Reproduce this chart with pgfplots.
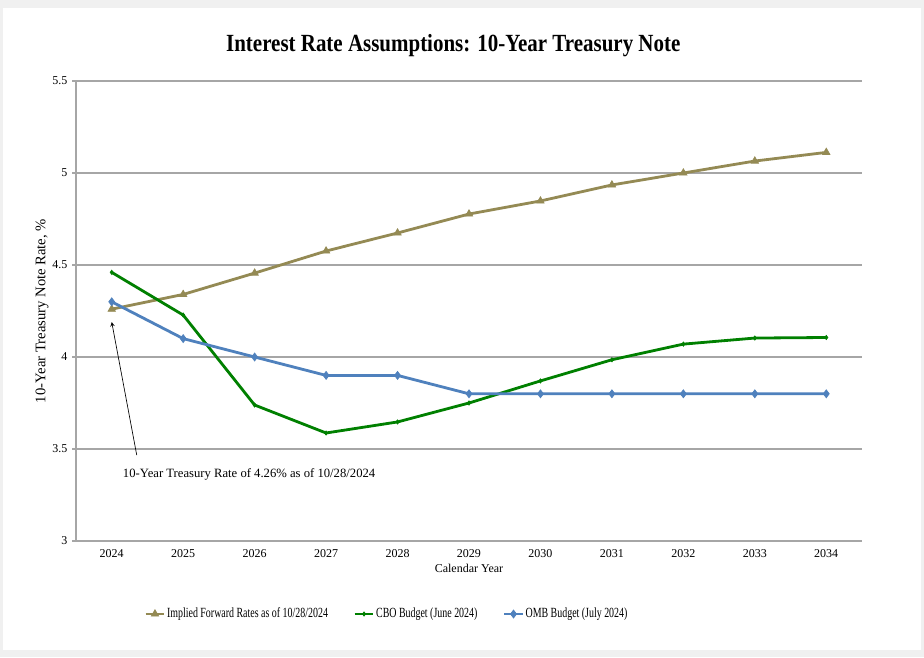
\documentclass[border=0pt]{standalone}
\usepackage{pgfplots}
\pgfplotsset{compat=1.18}
\usepackage{fontspec}
\setmainfont{Liberation Serif}
\newfontfamily\condensed[FakeStretch=0.71]{Liberation Serif}
\newfontfamily\titlefont[FakeStretch=0.85]{Liberation Serif}
\definecolor{tan}{HTML}{948A54}
\definecolor{cbo}{HTML}{008000}
\definecolor{omb}{HTML}{4F81BD}
\definecolor{bg}{HTML}{F0F0F0}
\begin{document}
\begin{tikzpicture}
% 1 px = 0.75pt ; axis origin at pixel (76,541)
\useasboundingbox (-57pt,-87pt) rectangle (636pt,405.75pt);
\fill[bg] (-57pt,-87pt) rectangle (636pt,405.75pt);
\fill[white] (-54.75pt,-81.75pt) rectangle (633.75pt,399.75pt);
\begin{axis}[
  scale only axis,
  width=589.5pt, height=345pt,
  at={(0,0)}, anchor=south west,
  xmin=2023.5, xmax=2034.5,
  ymin=3, ymax=5.5,
  xtick={2024,...,2034},
  ytick={3,3.5,4,4.5,5,5.5},
  yticklabels={3,3.5,4,4.5,5,5.5},
  xticklabel style={/pgf/number format/1000 sep={}},
  /pgf/number format/assume math mode=true,
  ticklabel style={font=\fontsize{9}{10}\selectfont},
  axis x line*=bottom, axis y line*=left,
  axis line style={gray!70, line width=0.8pt},
  ymajorgrids, grid style={gray!70, line width=0.8pt},
  major tick length=3pt,
  xtick style={draw=none},
  ytick style={gray!70, line width=0.8pt},
  tick align=outside,
  xlabel={Calendar Year},
  ylabel={10-Year Treasury Note Rate, \%},
  xlabel style={font=\fontsize{9}{10}\selectfont, yshift=2pt},
  ylabel style={font=\fontsize{11}{12}\selectfont, yshift=-4pt},
  clip=false,
  legend columns=3,
  legend style={draw=none, fill=none, at={(rel axis cs:0.0814,-0.1587)}, anchor=west,
    font=\condensed\fontsize{10.5}{12}\selectfont,
    /tikz/every even column/.append style={column sep=18pt},
    nodes={inner xsep=1pt}},
  legend image code/.code={\draw[#1] (0pt,0pt) -- (14pt,0pt); \path[#1,mark repeat=1] plot coordinates {(7pt,0pt)};},
]
\addplot[tan, line width=2.1pt, mark=triangle*, mark size=3.2pt, mark options={line width=0.5pt}] coordinates {
 (2024,4.26) (2025,4.34) (2026,4.456) (2027,4.576) (2028,4.674) (2029,4.777)
 (2030,4.848) (2031,4.935) (2032,5.0) (2033,5.065) (2034,5.112)};
\addlegendentry{Implied Forward Rates as of 10/28/2024}
\addplot[cbo, line width=2.1pt, mark=diamond*, mark size=1.6pt, mark options={line width=0.5pt}] coordinates {
 (2024,4.46) (2025,4.228) (2026,3.739) (2027,3.587) (2028,3.647) (2029,3.75)
 (2030,3.87) (2031,3.985) (2032,4.07) (2033,4.103) (2034,4.106)};
\addlegendentry{CBO Budget (June 2024)}
\addplot[omb, line width=2.1pt, mark=diamond*, mark size=3pt, mark options={line width=0.5pt}] coordinates {
 (2024,4.3) (2025,4.1) (2026,4.0) (2027,3.9) (2028,3.9) (2029,3.8)
 (2030,3.8) (2031,3.8) (2032,3.8) (2033,3.8) (2034,3.8)};
\addlegendentry{OMB Budget (July 2024)}
\draw[-stealth, black, line width=0.5pt] (axis cs:2024.35,3.467) -- (axis cs:2024.0,4.19);
\node[anchor=west, font=\fontsize{9.5}{11}\selectfont, inner sep=0pt] at (axis cs:2024.154,3.364) {10-Year Treasury Rate of 4.26\% as of 10/28/2024};
\node[font=\titlefont\bfseries\fontsize{18.5}{20}\selectfont] at (rel axis cs:0.48,1.078) {Interest Rate Assumptions: 10-Year Treasury Note};
\end{axis}
\end{tikzpicture}
\end{document}
